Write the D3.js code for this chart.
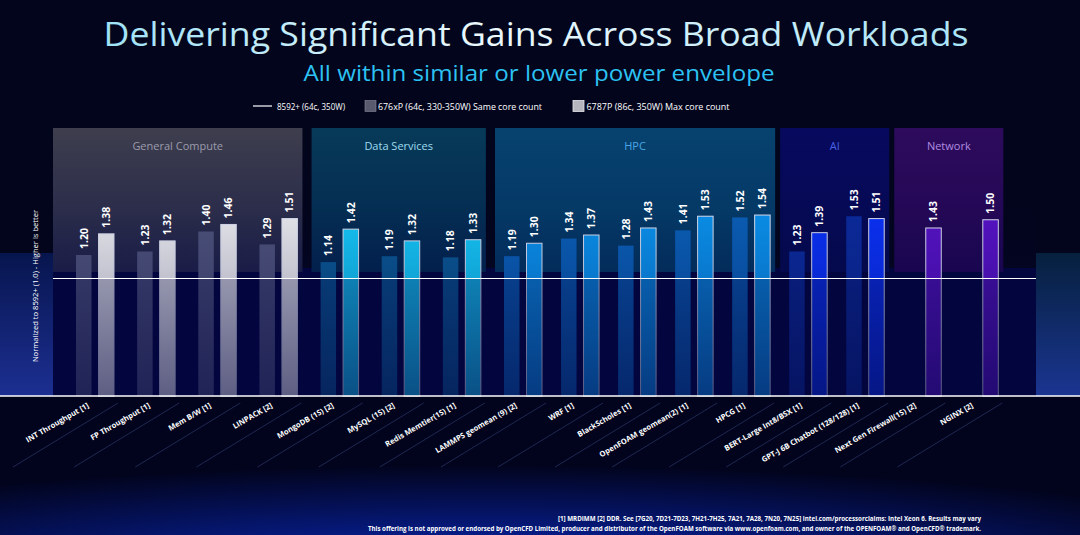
<!DOCTYPE html>
<html>
<head>
<meta charset="utf-8">
<script src="https://cdn.jsdelivr.net/npm/d3@7/dist/d3.min.js"></script>
<style>
  body { margin: 0; background: #03051d; }
  svg { display: block; font-family: "Open Sans", "Noto Sans", sans-serif; }
</style>
</head>
<body>
<div id="chart"></div>
<script>
// Workloads along the x axis
const categories = [
  "INT Throughput [1]", "FP Throughput [1]", "Mem B/W [1]", "LINPACK [2]",
  "MongoDB (1S) [2]", "MySQL (1S) [2]", "Redis Memtier(1S) [1]",
  "LAMMPS geomean (9) [2]", "WRF [1]", "BlackScholes [1]", "OpenFOAM geomean(2) [1]", "HPCG [1]",
  "BERT-Large Int8/BSX  [1]", "GPT-J 6B Chatbot (128/128) [1]",
  "Next Gen Firewall(1S) [2]", "NGINX [2]"
];
const groups = ["General Compute", "Data Services", "HPC", "AI", "Network"];
const groupOf = [0, 0, 0, 0, 1, 1, 1, 2, 2, 2, 2, 2, 3, 3, 4, 4];

// 676xP (same core count) and 6787P (max core count), normalized to 8592+ = 1.0
const sameCore = [1.20, 1.23, 1.40, 1.29, 1.14, 1.19, 1.18, 1.19, 1.34, 1.28, 1.41, 1.52, 1.23, 1.53, null, null];
const maxCore  = [1.38, 1.32, 1.46, 1.51, 1.42, 1.32, 1.33, 1.30, 1.37, 1.43, 1.53, 1.54, 1.39, 1.51, 1.43, 1.50];

const legendLabels = ["8592+ (64c, 350W)", "676xP (64c, 330-350W) Same core count", "6787P (86c, 350W) Max core count"];

// colours per group
const groupText = ["#9c9cac", "#9fdcf0", "#4aa6e6", "#4a62e6", "#b08ce0"];
const panelTop = ["#3e3e4e", "#073a58", "#07426f", "#07095e", "#2e0b5c"];
const panelBot = ["#1d2048", "#03244f", "#03325f", "#040a4e", "#1c0652"];
const sameFill = ["#4b5078", "#0a5590", "#0a5cb2", "#0b2a98", null];
const maxFill  = ["#e4e4e9", "#14c2f2", "#0a8de6", "#0a30f0", "#5412c0"];

const W = 1080, H = 535;
const plotLeft = 53, plotRight = 1036;
const barW = 15.5, pairGap = 22.5;

const svg = d3.select("#chart").append("svg")
  .attr("width", W).attr("height", H);
const defs = svg.append("defs");

// scales
const x = d3.scaleLinear().domain([0, 7, 15]).range([76, 504, 960.3]);
const y = d3.scaleLinear().domain([0, 1]).range([396, 278.5]);

// ---------- background ----------
svg.append("rect").attr("width", W).attr("height", H).attr("fill", "#03051d");

const glow = defs.append("radialGradient").attr("id", "glow")
  .attr("cx", 0.45).attr("cy", 1.3).attr("r", 0.8);
glow.append("stop").attr("offset", "0%").attr("stop-color", "#0d3cc0");
glow.append("stop").attr("offset", "40%").attr("stop-color", "#061a80");
glow.append("stop").attr("offset", "100%").attr("stop-color", "#02041e");
svg.append("rect").attr("x", 0).attr("y", 396).attr("width", W).attr("height", H - 396)
  .attr("fill", "url(#glow)");

const sideL = defs.append("linearGradient").attr("id", "sideL").attr("x1", 0).attr("y1", 0).attr("x2", 0).attr("y2", 1);
sideL.append("stop").attr("offset", "0%").attr("stop-color", "#07154e");
sideL.append("stop").attr("offset", "100%").attr("stop-color", "#1c2f92");
const sideR = defs.append("linearGradient").attr("id", "sideR").attr("x1", 0).attr("y1", 0).attr("x2", 0).attr("y2", 1);
sideR.append("stop").attr("offset", "0%").attr("stop-color", "#06203e");
sideR.append("stop").attr("offset", "100%").attr("stop-color", "#1b3592");
svg.append("rect").attr("x", 0).attr("y", 253).attr("width", plotLeft).attr("height", 396 - 253).attr("fill", "url(#sideL)");
svg.append("rect").attr("x", plotRight).attr("y", 253).attr("width", W - plotRight).attr("height", 396 - 253).attr("fill", "url(#sideR)");
svg.append("rect").attr("x", plotLeft).attr("y", 268).attr("width", plotRight - plotLeft).attr("height", 396 - 268).attr("fill", "#03053f");

// ---------- title ----------
const tg = defs.append("linearGradient").attr("id", "titleGrad");
tg.append("stop").attr("offset", "0%").attr("stop-color", "#9fe2f7");
tg.append("stop").attr("offset", "45%").attr("stop-color", "#eef8fd");
tg.append("stop").attr("offset", "100%").attr("stop-color", "#a9e4f7");

svg.append("text")
  .attr("x", W / 2 - 4).attr("y", 46)
  .attr("text-anchor", "middle")
  .attr("font-size", 32)
  .attr("textLength", 865).attr("lengthAdjust", "spacingAndGlyphs")
  .attr("fill", "url(#titleGrad)")
  .text("Delivering Significant Gains Across Broad Workloads");

svg.append("text")
  .attr("x", 539).attr("y", 81)
  .attr("text-anchor", "middle")
  .attr("font-size", 21)
  .attr("textLength", 471).attr("lengthAdjust", "spacingAndGlyphs")
  .attr("fill", "#2cc2f2")
  .text("All within similar or lower power envelope");

// ---------- legend ----------
const lg = svg.append("g").attr("font-size", 9).attr("fill", "#ffffff");
lg.append("line").attr("x1", 253).attr("x2", 272).attr("y1", 106).attr("y2", 106)
  .attr("stroke", "#ffffff").attr("stroke-width", 1.2);
lg.append("text").attr("x", 277).attr("y", 109.5)
  .attr("textLength", 68).attr("lengthAdjust", "spacingAndGlyphs").text(legendLabels[0]);
lg.append("rect").attr("x", 365).attr("y", 100.5).attr("width", 11).attr("height", 11)
  .attr("fill", "#5a5a6e").attr("stroke", "#8a8a9a").attr("stroke-width", 0.6);
lg.append("text").attr("x", 378).attr("y", 109.5)
  .attr("textLength", 164).attr("lengthAdjust", "spacingAndGlyphs").text(legendLabels[1]);
lg.append("rect").attr("x", 573).attr("y", 100.5).attr("width", 11).attr("height", 11)
  .attr("fill", "#b6b6be").attr("stroke", "#e6e6ea").attr("stroke-width", 0.8);
lg.append("text").attr("x", 586.5).attr("y", 109.5)
  .attr("textLength", 143).attr("lengthAdjust", "spacingAndGlyphs").text(legendLabels[2]);

// ---------- group panels ----------
groups.forEach((name, gi) => {
  const idx = d3.range(categories.length).filter(i => groupOf[i] === gi);
  const x0 = gi === 0 ? plotLeft : x(idx[0]) - 9;
  const x1 = x(idx[idx.length - 1]) + pairGap + barW + 5;

  const pg = defs.append("linearGradient").attr("id", "panel" + gi)
    .attr("x1", 0).attr("y1", 0).attr("x2", 0).attr("y2", 1);
  pg.append("stop").attr("offset", "0%").attr("stop-color", panelTop[gi]);
  pg.append("stop").attr("offset", "100%").attr("stop-color", panelBot[gi]);

  svg.append("rect")
    .attr("x", x0).attr("y", 128)
    .attr("width", x1 - x0).attr("height", 272 - 128)
    .attr("fill", `url(#panel${gi})`);

  svg.append("text")
    .attr("x", (x0 + x1) / 2).attr("y", 149.5)
    .attr("text-anchor", "middle")
    .attr("font-size", 11)
    .attr("fill", groupText[gi])
    .text(name);
});

// ---------- bars ----------
const barG = svg.append("g");

// 676xP bars
barG.selectAll("rect.same")
  .data(sameCore.map((v, i) => ({ v, i })).filter(d => d.v !== null))
  .join("rect")
  .attr("class", "same")
  .attr("x", d => x(d.i))
  .attr("y", d => y(d.v))
  .attr("width", barW)
  .attr("height", d => y(0) - y(d.v))
  .attr("fill", d => sameFill[groupOf[d.i]]);

// 6787P bars (light outline)
barG.selectAll("rect.max")
  .data(maxCore.map((v, i) => ({ v, i })))
  .join("rect")
  .attr("class", "max")
  .attr("x", d => x(d.i) + pairGap)
  .attr("y", d => y(d.v))
  .attr("width", barW)
  .attr("height", d => y(0) - y(d.v))
  .attr("fill", d => maxFill[groupOf[d.i]])
  .attr("stroke", "#d8dcec")
  .attr("stroke-width", 1);

// shading on top of the bars: subtle darkening downwards above 1.0, heavier below 1.0
const topShade = defs.append("linearGradient").attr("id", "topShade")
  .attr("x1", 0).attr("y1", 0).attr("x2", 0).attr("y2", 1);
topShade.append("stop").attr("offset", "0%").attr("stop-color", "#03053f").attr("stop-opacity", 0);
topShade.append("stop").attr("offset", "100%").attr("stop-color", "#03053f").attr("stop-opacity", 0.15);
svg.append("rect").attr("x", plotLeft).attr("y", y(1.6)).attr("width", plotRight - plotLeft)
  .attr("height", y(1) - y(1.6)).attr("fill", "url(#topShade)");

const lowShade = defs.append("linearGradient").attr("id", "lowShade")
  .attr("x1", 0).attr("y1", 0).attr("x2", 0).attr("y2", 1);
lowShade.append("stop").attr("offset", "0%").attr("stop-color", "#03053f").attr("stop-opacity", 0.35);
lowShade.append("stop").attr("offset", "100%").attr("stop-color", "#03053f").attr("stop-opacity", 0.6);
svg.append("rect").attr("x", plotLeft).attr("y", y(1)).attr("width", plotRight - plotLeft)
  .attr("height", y(0) - y(1)).attr("fill", "url(#lowShade)");

// value labels
const labG = svg.append("g")
  .attr("font-size", 10.5).attr("font-weight", "bold").attr("fill", "#ffffff");
const labelData = [];
sameCore.forEach((v, i) => { if (v !== null) labelData.push({ v, cx: x(i) + barW / 2 }); });
maxCore.forEach((v, i) => labelData.push({ v, cx: x(i) + pairGap + barW / 2 }));
labG.selectAll("text")
  .data(labelData)
  .join("text")
  .attr("transform", d => `translate(${d.cx + 3.8},${y(d.v) - 6}) rotate(-90)`)
  .attr("text-anchor", "start")
  .text(d => d.v.toFixed(2));

// baseline at 1.0
svg.append("line")
  .attr("x1", plotLeft).attr("x2", plotRight)
  .attr("y1", y(1)).attr("y2", y(1))
  .attr("stroke", "#ffffff").attr("stroke-width", 1.2);

// y axis title
svg.append("text")
  .attr("transform", `translate(38,286) rotate(-90)`)
  .attr("text-anchor", "middle")
  .attr("font-size", 7.6)
  .attr("fill", "#ffffff")
  .text("Normalized to 8592+ (1.0) - Higher is better");

// ---------- x axis ----------
// faint diagonal separators under the axis
svg.append("g").selectAll("line")
  .data(d3.range(categories.length))
  .join("line")
  .attr("x1", i => x(i) + 42).attr("y1", 403)
  .attr("x2", i => x(i) + 42 - 105).attr("y2", 467)
  .attr("stroke", "#4a5c9c").attr("stroke-opacity", 0.5).attr("stroke-width", 0.8);

const xAxis = d3.axisBottom(x)
  .tickValues(d3.range(categories.length))
  .tickFormat(i => categories[i])
  .tickSize(0);

const axG = svg.append("g")
  .attr("transform", `translate(${pairGap / 2 + barW / 2 - 6},${y(0)})`)
  .call(xAxis);
axG.select(".domain").remove();
axG.selectAll(".tick text")
  .attr("x", 0).attr("y", 0).attr("dy", 0)
  .attr("transform", "translate(0,11) rotate(-30)")
  .attr("text-anchor", "end")
  .attr("font-family", "'Open Sans', sans-serif")
  .attr("font-size", 7.6)
  .attr("font-weight", "bold")
  .attr("fill", "#ffffff");

svg.append("line")
  .attr("x1", 0).attr("x2", W)
  .attr("y1", y(0)).attr("y2", y(0))
  .attr("stroke", "#ffffff").attr("stroke-width", 1.5);

// ---------- footnotes ----------
const fn = svg.append("g").attr("font-size", 6.5).attr("font-weight", "bold")
  .attr("fill", "#ffffff").attr("text-anchor", "end");
fn.append("text").attr("x", 981).attr("y", 521)
  .attr("textLength", 423).attr("lengthAdjust", "spacingAndGlyphs")
  .text("[1]  MRDIMM    [2] DDR. See [7G20, 7D21-7D23, 7H21-7H25, 7A21, 7A28, 7N20, 7N25] intel.com/processorclaims: Intel Xeon 6.  Results may vary");
fn.append("text").attr("x", 981).attr("y", 531)
  .attr("textLength", 613).attr("lengthAdjust", "spacingAndGlyphs")
  .text("This offering is not approved or endorsed by OpenCFD Limited, producer and distributor of the OpenFOAM software via www.openfoam.com, and owner of the OPENFOAM\u00AE and OpenCFD\u00AE trademark.");
</script>
</body>
</html>
